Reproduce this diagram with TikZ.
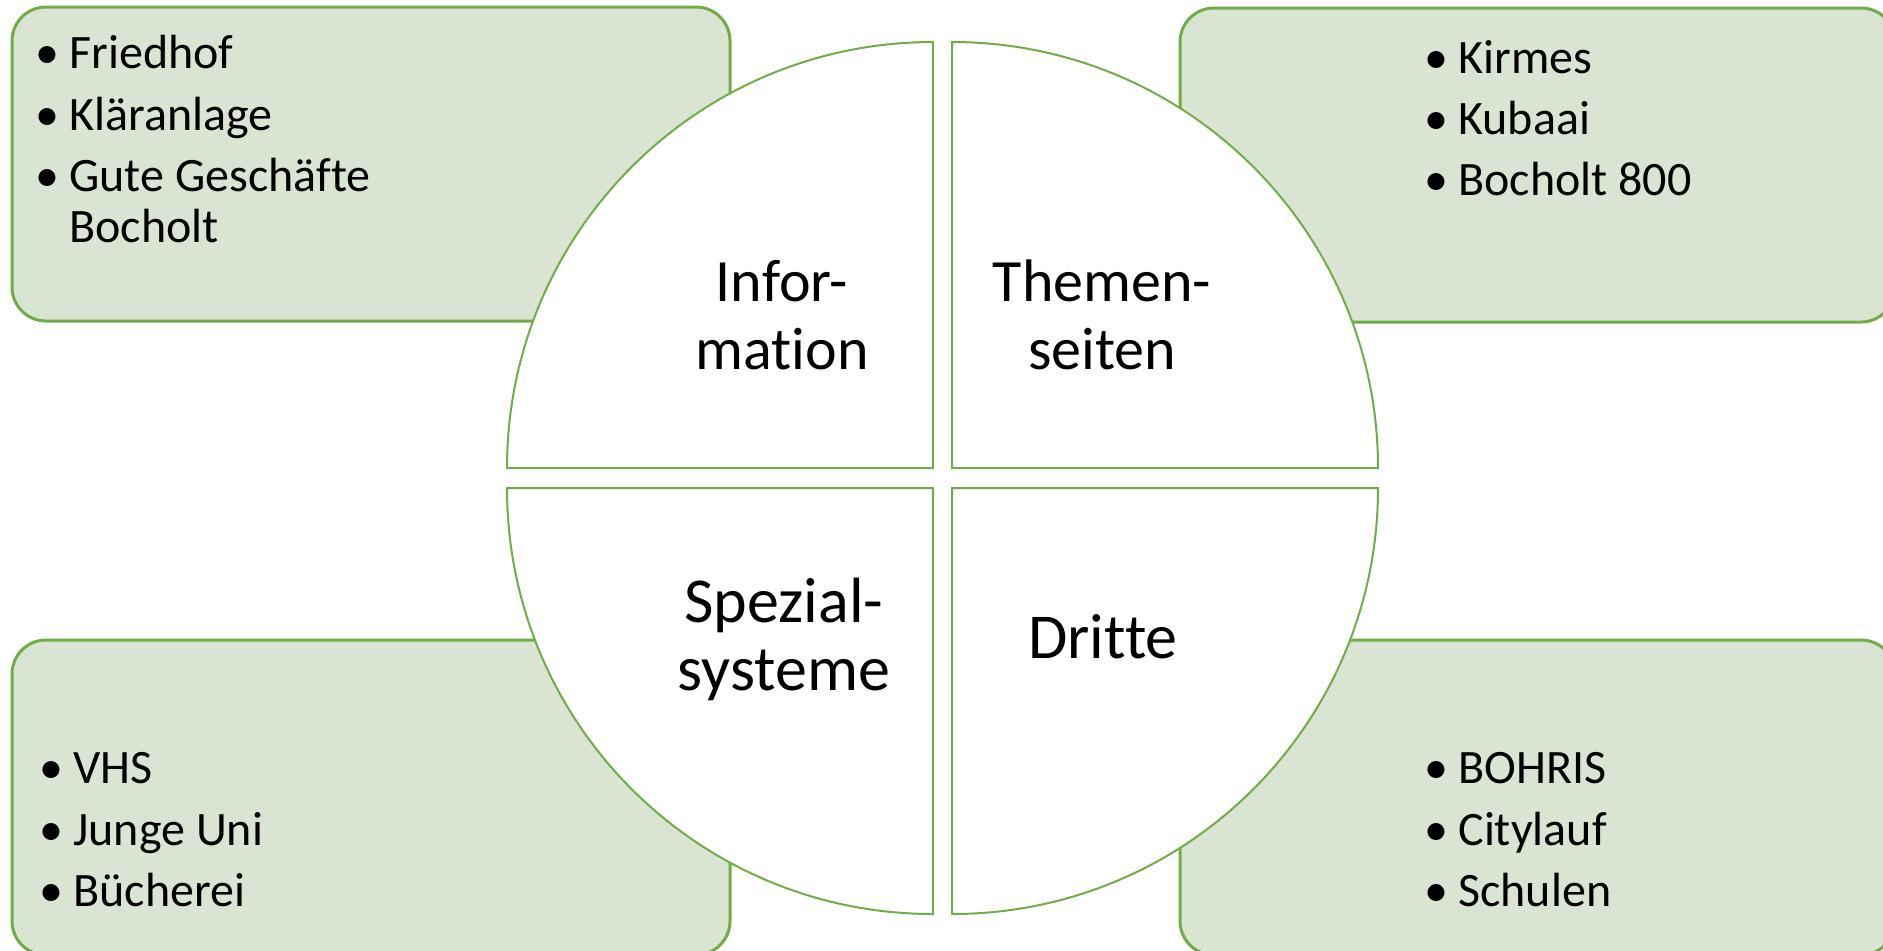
\documentclass[tikz,border=0pt]{standalone}
\usepackage{fontspec}
\setmainfont{Carlito}[Ligatures=NoCommon]
\usetikzlibrary{positioning}
\tikzstyle{diagram} = [x = .5pt, y = -.5pt]
\definecolor{ringColor}{RGB}{112,173,71}
\definecolor{boxColor}{RGB}{218,228,210}
\tikzstyle{boxStyle} = [draw=ringColor, fill=boxColor, line width=1.5pt, rounded corners = 17pt]
\tikzstyle{quadrantStyle} = [draw=ringColor, fill=white, line width=1pt]
\tikzstyle{itemText} = [font=\fontsize{24}{26}\selectfont, anchor=base west, inner sep=0pt]
\tikzstyle{quadrantText} = [font=\fontsize{30}{34}\selectfont, align=center, inner sep=0pt]
\tikzstyle{lowerText} = [quadrantText, font=\fontsize{32}{34}\selectfont]
\newcommand{\radius}{426}
\newcommand{\listBox}[5]{\filldraw [boxStyle] (#2, #3) rectangle (#4, #5); \coordinate (#1) at (#2, #3);}
\newcommand{\quadrant}[5]{\filldraw [quadrantStyle] (#2, #3) -- ++(#4:\radius) arc [start angle = #4, end angle = #5, radius = \radius] -- cycle; \coordinate (#1) at (#2, #3);}
\newcommand{\listItem}[4]{
  \node [itemText] (#1) at (#2, #3) {#4};
  \node [itemText] (#1Dot) at ([xshift=-17pt]#1.base west) {•};
}

\begin{document}
\begin{tikzpicture}[diagram]
        \useasboundingbox (0, 0) rectangle (1883, 950);
        % boxes
        \listBox{infoBox}{12}{7}{730}{321}
        \listBox{themeBox}{1180}{8}{1895}{322}
        \listBox{specialBox}{12}{640}{730}{955}
        \listBox{thirdBox}{1180}{640}{1895}{955}

        \listItem{infoItemA}{69}{68}{Friedhof}
        \listItem{infoItemB}{69}{130}{Kläranlage}
        \listItem{infoItemC}{69}{191}{Gute Geschäfte}
        \node [itemText] (infoItemD) at (69, 242) {Bocholt};

        \listItem{themeItemA}{1458}{73}{Kirmes}
        \listItem{themeItemB}{1458}{134}{Kubaai}
        \listItem{themeItemC}{1458}{195}{Bocholt 800}

        \listItem{specialItemA}{73}{783}{VHS}
        \listItem{specialItemB}{73}{845}{Junge Uni}
        \listItem{specialItemC}{73}{906}{Bücherei}

        \listItem{thirdItemA}{1458}{783}{BOHRIS}
        \listItem{thirdItemB}{1458}{845}{Citylauf}
        \listItem{thirdItemC}{1458}{906}{Schulen}

        % circle
        \quadrant{infoCorner}{933}{468}{180}{270}
        \quadrant{themeCorner}{952}{468}{270}{360}
        \quadrant{thirdCorner}{952}{488}{0}{90}
        \quadrant{specialCorner}{933}{488}{90}{180}

        \node [quadrantText] (infoLabel) at (782, 315) {Infor-\\mation};
        \node [quadrantText] (themeLabel) at (1102, 315) {Themen-\\seiten};
        \node [lowerText] (specialLabel) at (784, 639) {Spezial-\\systeme};
        \node [lowerText, anchor=base] (thirdLabel) at (1103, 658) {Dritte};
      \end{tikzpicture}
\end{document}
